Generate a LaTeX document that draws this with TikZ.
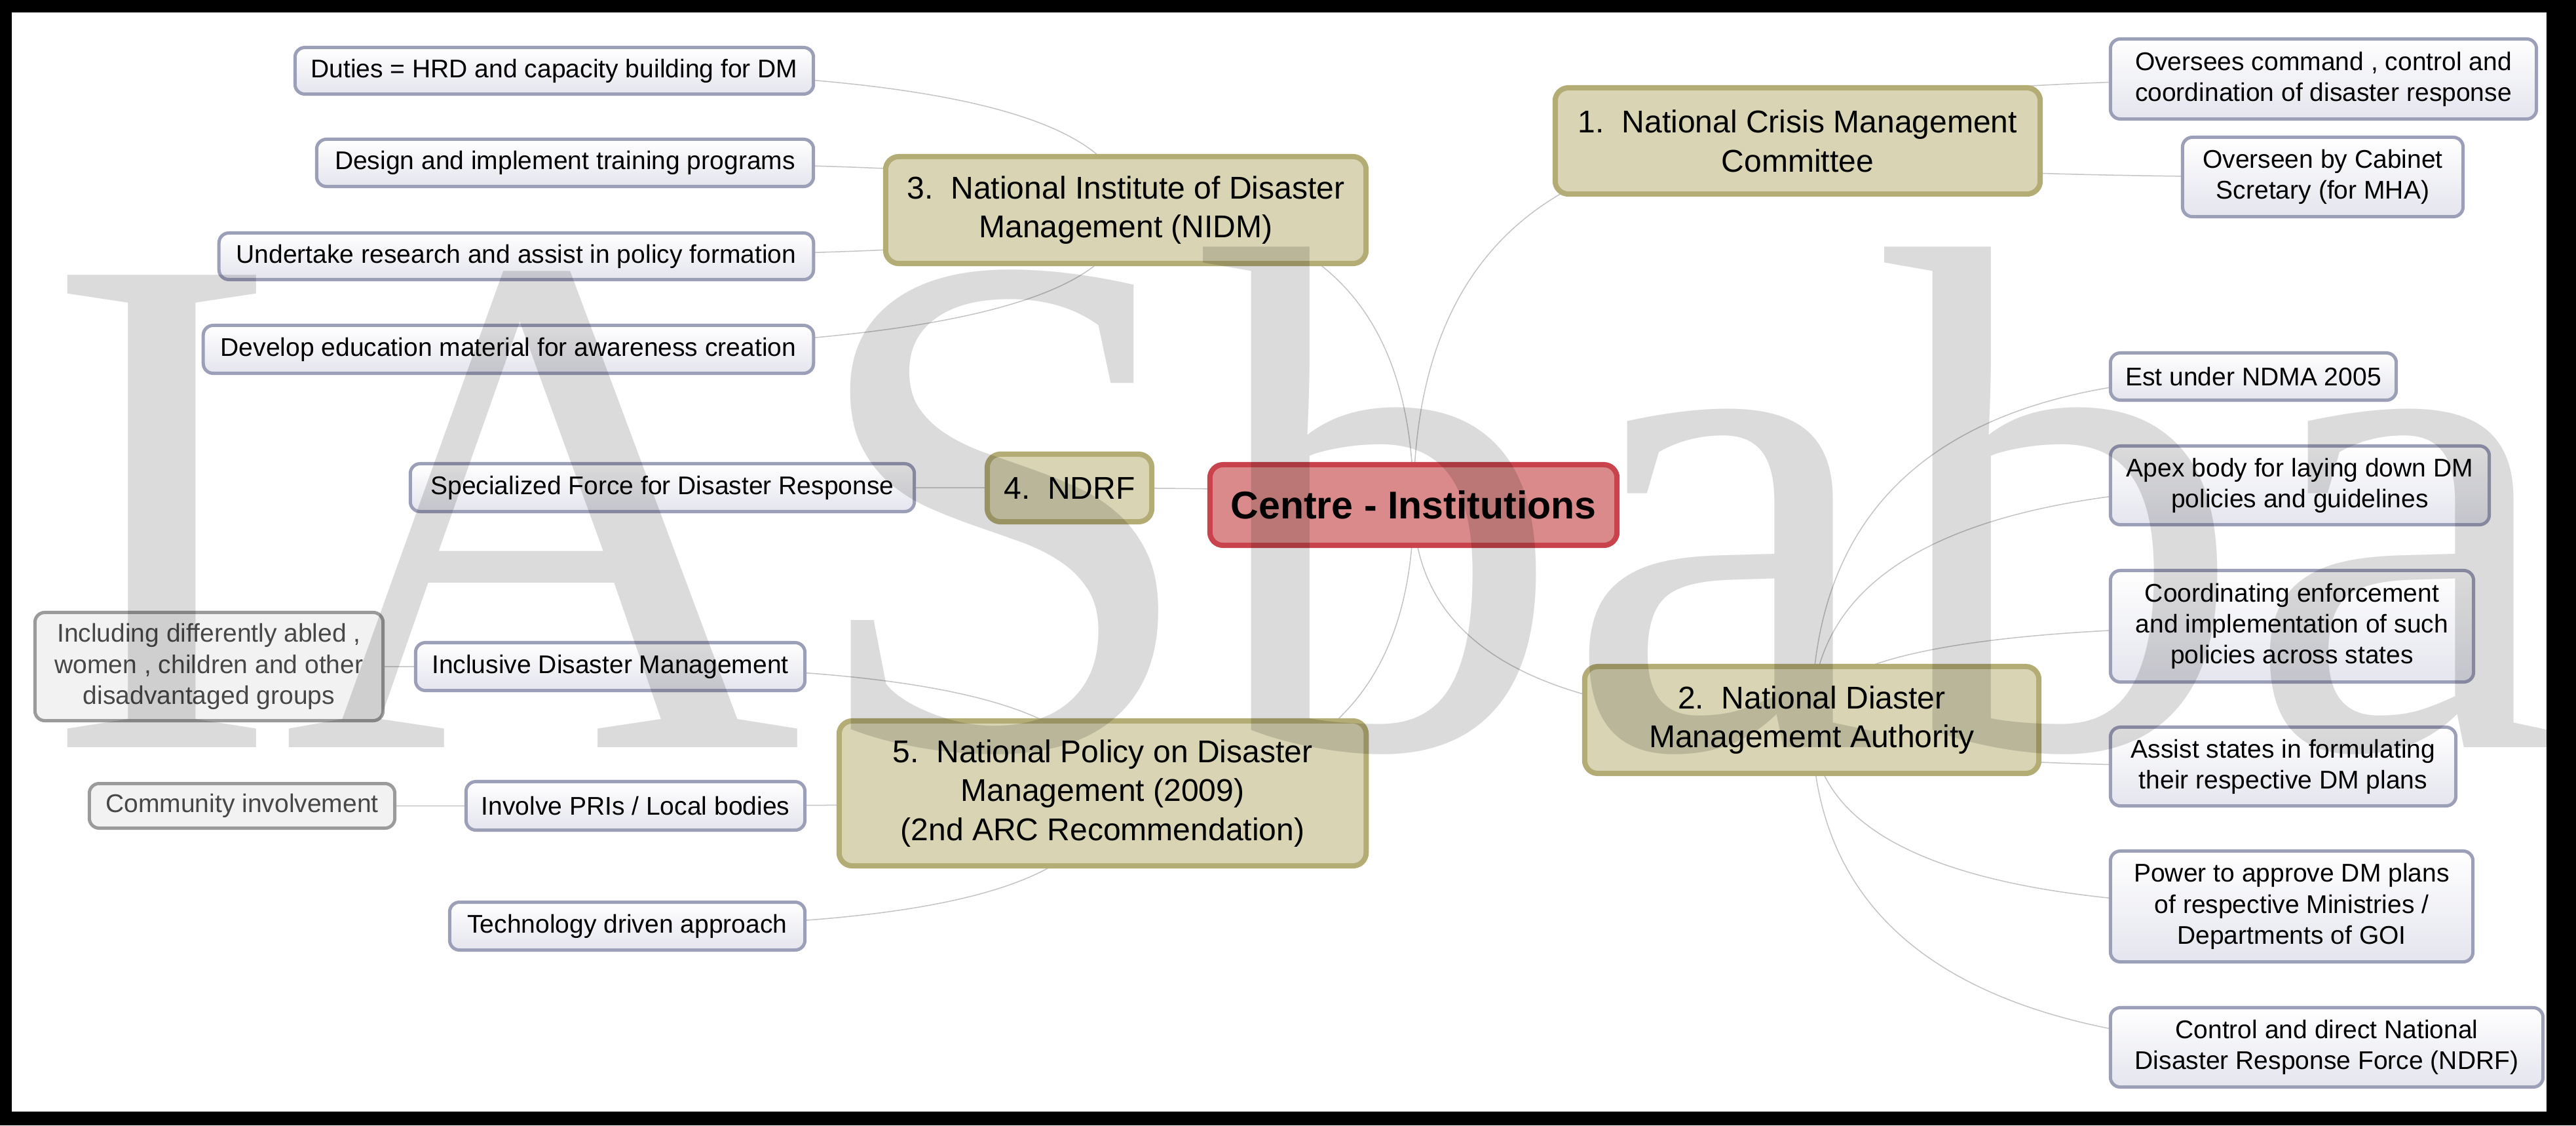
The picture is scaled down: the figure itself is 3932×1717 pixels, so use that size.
\documentclass[tikz,border=0pt]{standalone}
\usepackage{fontspec}
\setmainfont{Liberation Sans}
\newfontfamily\markfont{Liberation Serif}
\usetikzlibrary{calc}
\definecolor{subline}{HTML}{9C9FB8}
\definecolor{subfill}{HTML}{E4E5EE}
\definecolor{topicline}{HTML}{B3AC75}
\definecolor{topicfill}{HTML}{D8D4B4}
\definecolor{rootline}{HTML}{C8434B}
\definecolor{rootfill}{HTML}{DA8A8A}
\definecolor{greyline}{HTML}{9B9B9B}
\definecolor{greyfill}{HTML}{F2F2F2}
\definecolor{greytext}{HTML}{474747}
\definecolor{wirecol}{HTML}{C4C4C4}
\pgfdeclarelayer{back}
\pgfdeclarelayer{wires}
\pgfsetlayers{back,wires,main}
\newcommand{\branch}[2]{%
  \draw[branchline] (#1.center) .. controls ($(#1.center)!2/3!(#1.center |- #2.center)$)
    and ($(#2.center)!2/3!(#1.center |- #2.center)$) .. (#2.center);}

\begin{document}
\begin{tikzpicture}[
    x=0.01cm, y=-0.01cm,
    subbox/.style={draw=subline, line width=0.05cm, rounded corners=0.15cm,
      top color=white, bottom color=subfill, align=center, inner sep=0pt,
      font=\fontsize{11.1}{13.4}\selectfont},
    greybox/.style={subbox, draw=greyline, top color=greyfill,
      bottom color=greyfill, text=greytext},
    topicbox/.style={draw=topicline, fill=topicfill, line width=0.08cm,
      rounded corners=0.2cm, align=center, inner sep=0pt,
      font=\fontsize{13.66}{17}\selectfont},
    centrebox/.style={topicbox, draw=rootline, fill=rootfill,
      font=\fontsize{16.8}{20}\selectfont\bfseries},
    branchline/.style={draw=wirecol, line width=0.015cm},
    ]
    \useasboundingbox (0,0) rectangle (3932,1717);
    \begin{pgfonlayer}{back}
      \fill[black] (0,0) rectangle (3932,1717);
      \fill[white] (18,19) rectangle (3887,1696);
    \end{pgfonlayer}

    \node[centrebox, minimum width=6.21cm, minimum height=1.23cm] (centre) at (2157.5,770.5) {Centre - Institutions};

    \node[topicbox, minimum width=7.40cm, minimum height=1.62cm] (ncmc) at (2744,215) {1.\ \ National Crisis Management\\Committee};
    \node[topicbox, minimum width=6.93cm, minimum height=1.63cm] (ndma) at (2765.5,1098.5) {2.\ \ National Diaster\\Managememt Authority};
    \node[topicbox, minimum width=7.33cm, minimum height=1.63cm] (nidm) at (1718.5,320.5) {3.\ \ National Institute of Disaster\\Management (NIDM)};
    \node[topicbox, minimum width=2.51cm, minimum height=1.03cm] (ndrf) at (1632.5,744.5) {4.\ \ NDRF};
    \node[topicbox, minimum width=8.04cm, minimum height=2.21cm] (npdm) at (1683,1210.5) {5.\ \ National Policy on Disaster\\Management (2009)\\(2nd ARC Recommendation)};

    \node[subbox, minimum width=6.50cm, minimum height=1.22cm] (oversees) at (3546.5,120.5) {Oversees command , control and\\coordination of disaster response};
    \node[subbox, minimum width=4.28cm, minimum height=1.21cm] (overseen) at (3545.5,270) {Overseen by Cabinet\\Scretary (for MHA)};

    \node[subbox, minimum width=4.36cm, minimum height=0.72cm] (est) at (3439.5,574.5) {Est under NDMA 2005};
    \node[subbox, minimum width=5.78cm, minimum height=1.20cm] (apex) at (3510.5,740.5) {Apex body for laying down DM\\policies and guidelines};
    \node[subbox, minimum width=5.54cm, minimum height=1.70cm] (coord) at (3498.5,955.5) {Coordinating enforcement\\and implementation of such\\policies across states};
    \node[subbox, minimum width=5.27cm, minimum height=1.20cm] (assist) at (3485,1169.5) {Assist states in formulating\\their respective DM plans};
    \node[subbox, minimum width=5.53cm, minimum height=1.69cm] (power) at (3498,1383) {Power to approve DM plans\\of respective Ministries /\\Departments of GOI};
    \node[subbox, minimum width=6.60cm, minimum height=1.21cm] (control) at (3551.5,1598) {Control and direct National\\Disaster Response Force (NDRF)};

    \node[subbox, minimum width=7.91cm, minimum height=0.71cm] (duties) at (846,108) {Duties = HRD and capacity building for DM};
    \node[subbox, minimum width=7.58cm, minimum height=0.72cm] (design) at (862.5,248.5) {Design and implement training programs};
    \node[subbox, minimum width=9.07cm, minimum height=0.71cm] (research) at (788,391) {Undertake research and assist in policy formation};
    \node[subbox, minimum width=9.31cm, minimum height=0.73cm] (develop) at (776,533) {Develop education material for awareness creation};

    \node[subbox, minimum width=7.69cm, minimum height=0.73cm] (force) at (1011,744) {Specialized Force for Disaster Response};

    \node[subbox, minimum width=5.94cm, minimum height=0.73cm] (inclusive) at (931.5,1017) {Inclusive Disaster Management};
    \node[subbox, minimum width=5.17cm, minimum height=0.74cm] (involve) at (970,1229.5) {Involve PRIs / Local bodies};
    \node[subbox, minimum width=5.42cm, minimum height=0.73cm] (techno) at (957.5,1413) {Technology driven approach};
    \node[greybox, minimum width=5.31cm, minimum height=1.65cm] (including) at (319,1017) {Including differently abled ,\\women , children and other\\disadvantaged groups};
    \node[greybox, minimum width=4.66cm, minimum height=0.68cm] (community) at (369.5,1229.5) {Community involvement};

    \begin{pgfonlayer}{wires}
      \branch{centre}{ncmc}
      \branch{centre}{ndma}
      \branch{centre}{nidm}
      \branch{centre}{ndrf}
      \branch{centre}{npdm}
      \branch{ncmc}{oversees}
      \branch{ncmc}{overseen}
      \branch{ndma}{est}
      \branch{ndma}{apex}
      \branch{ndma}{coord}
      \branch{ndma}{assist}
      \branch{ndma}{power}
      \branch{ndma}{control}
      \branch{nidm}{duties}
      \branch{nidm}{design}
      \branch{nidm}{research}
      \branch{nidm}{develop}
      \branch{ndrf}{force}
      \branch{npdm}{inclusive}
      \branch{npdm}{involve}
      \branch{npdm}{techno}
      \branch{inclusive}{including}
      \branch{involve}{community}
    \end{pgfonlayer}

    \node[anchor=base west, inner sep=0pt, text=black, text opacity=0.14,
      font=\markfont\fontsize{313}{313}\selectfont] (mark) at (63,1140) {IASbaba};
  \end{tikzpicture}
\end{document}
